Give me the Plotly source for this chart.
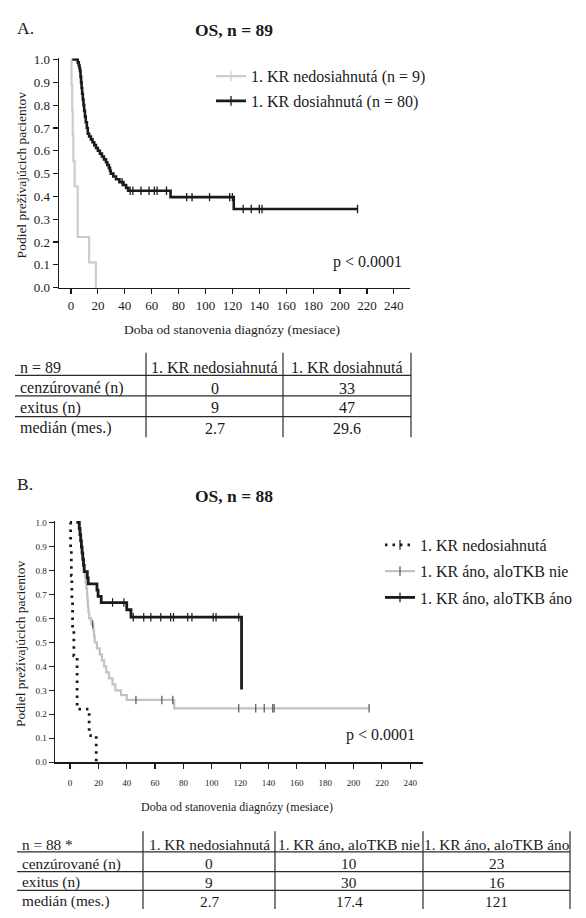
import numpy as np
import plotly.graph_objects as go

W, H = 586, 918
FONT = "Liberation Serif, Times New Roman, Times, serif"
INK = "#1a1a1a"
GRAY_A = "#cccccc"
GRAY_B = "#c2c2c2"

# ---------------- Panel A data ----------------
a_no_t = [0, 0.4, 0.9, 1.3, 1.8, 2.7, 5.0, 13.5, 18.5]
a_no_s = [1.0, 0.889, 0.778, 0.667, 0.556, 0.444, 0.222, 0.111, 0.0]
a_no_end = 18.5

a_yes_t = [1.0, 5.0, 5.8, 6.3, 6.7, 7.1, 7.5, 7.9, 8.3, 8.8, 9.3, 9.8, 10.4, 11.0,
           11.8, 12.5, 13.5, 14.8, 16.0, 17.3, 18.6, 20.0, 21.5, 23.0, 24.5, 26.0,
           27.0, 28.2, 29.0, 29.6, 31.5, 33.5, 36.0, 39.0, 41.0, 42.5, 74.0, 121.0]
a_yes_s = [1.0, 0.9875, 0.975, 0.9625, 0.95, 0.925, 0.90, 0.875, 0.85, 0.825, 0.80,
           0.775, 0.75, 0.725, 0.70, 0.675, 0.6625, 0.65, 0.6375, 0.625, 0.6125,
           0.60, 0.5875, 0.575, 0.5625, 0.55, 0.5375, 0.525, 0.5125, 0.50, 0.4875,
           0.475, 0.4625, 0.45, 0.4375, 0.425, 0.397, 0.345]
a_yes_end = 213
a_yes_cens = [38, 44, 46, 52, 58, 62, 64, 71, 86, 90, 103, 118, 120, 128, 134,
              140, 142, 213]

a_names = ["1. KR nedosiahnutá (n = 9)", "1. KR dosiahnutá (n = 80)"]

# ---------------- Panel B data ----------------
b_no_t = [0, 0.4, 0.9, 1.3, 1.8, 2.7, 5.0, 13.5, 18.5]
b_no_s = [1.0, 0.889, 0.778, 0.667, 0.556, 0.444, 0.222, 0.111, 0.0]
b_no_end = 18.5

b_nie_t = [4.5, 7.0, 7.4, 7.8, 8.2, 8.6, 9.0, 9.5, 10.0, 10.5, 11.0, 11.5, 12.0,
           12.3, 12.6, 13.0, 13.5, 15.0, 16.5, 17.0, 17.4, 19.0, 21.0, 22.5, 24.0,
           25.5, 27.5, 30.0, 32.0, 36.0, 40.0, 73.5]
b_nie_s = [1.0, 0.975, 0.95, 0.925, 0.90, 0.875, 0.85, 0.825, 0.80, 0.775, 0.75,
           0.725, 0.70, 0.675, 0.65, 0.625, 0.60, 0.575, 0.55, 0.525, 0.50, 0.475,
           0.45, 0.425, 0.40, 0.375, 0.35, 0.325, 0.30, 0.28, 0.26, 0.225]
b_nie_end = 211
b_nie_cens = [16.0, 46.5, 64.8, 72.5, 119, 131, 137, 143, 144, 211]

b_ano_t = [4.5, 6.5, 7.0, 7.5, 8.0, 8.5, 9.0, 9.5, 10.0, 12.2, 12.8, 19.0, 19.8,
           22.0, 40.0, 43.0, 121.0]
b_ano_s = [1.0, 0.974, 0.949, 0.923, 0.897, 0.872, 0.846, 0.821, 0.795, 0.769,
           0.744, 0.718, 0.692, 0.666, 0.636, 0.605, 0.303]
b_ano_end = 121
b_ano_cens = [30, 38, 44.6, 52, 57, 64, 71, 73, 83, 86, 101, 103, 119]

b_names = ["1. KR nedosiahnutá", "1. KR áno, aloTKB nie", "1. KR áno, aloTKB áno"]

x_ticks = list(range(0, 241, 20))
y_ticks = [round(0.1 * i, 1) for i in range(11)]

# ---------------- Tables ----------------
tabA_head = ["n = 89", "1. KR nedosiahnutá", "1. KR dosiahnutá"]
tabA_rows = ["cenzúrované (n)", "exitus (n)", "medián (mes.)"]
tabA_c1 = ["0", "9", "2.7"]
tabA_c2 = ["33", "47", "29.6"]

tabB_head = ["n = 88 *", "1. KR nedosiahnutá", "1. KR áno, aloTKB nie", "1. KR áno, aloTKB áno"]
tabB_rows = ["cenzúrované (n)", "exitus (n)", "medián (mes.)"]
tabB_c1 = ["0", "9", "2.7"]
tabB_c2 = ["10", "30", "17.4"]
tabB_c3 = ["23", "16", "121"]


def px(x):
    return x / W


def py(y):
    return 1 - y / H


def step_xy(t, s, end):
    return list(t) + [end], list(s) + [s[-1]]


def s_at(t, s, tc):
    idx = np.searchsorted(np.array(t), np.array(tc), side="right") - 1
    return list(np.array(s)[idx])


fig = go.Figure()

# ---- Panel A curves ----
x, y = step_xy(a_no_t, a_no_s, a_no_end)
fig.add_trace(go.Scatter(x=x, y=y, mode="lines", line=dict(color=GRAY_A, width=2.2, shape="hv"),
                         showlegend=False, xaxis="x", yaxis="y", hoverinfo="skip"))
x, y = step_xy(a_yes_t, a_yes_s, a_yes_end)
fig.add_trace(go.Scatter(x=x, y=y, mode="lines", line=dict(color=INK, width=2.6, shape="hv"),
                         showlegend=False, xaxis="x", yaxis="y", hoverinfo="skip"))
fig.add_trace(go.Scatter(x=a_yes_cens, y=s_at(a_yes_t, a_yes_s, a_yes_cens), mode="markers",
                         marker=dict(symbol="line-ns", size=6, line=dict(color=INK, width=1.3)),
                         showlegend=False, xaxis="x", yaxis="y", hoverinfo="skip"))

# legend entries A
for name, col, w in zip(a_names, [GRAY_A, INK], [2.2, 2.6]):
    fig.add_trace(go.Scatter(x=[None], y=[None], mode="lines+markers", name=name,
                             line=dict(color=col, width=w),
                             marker=dict(symbol="line-ns", size=7, line=dict(color=col, width=1.3)),
                             xaxis="x", yaxis="y", legend="legend", legendgroup=name))

# ---- Panel B curves ----
x, y = step_xy(b_no_t, b_no_s, b_no_end)
fig.add_trace(go.Scatter(x=x, y=y, mode="lines",
                         line=dict(color=INK, width=2.8, shape="hv", dash="2.5px,5px"),
                         showlegend=False, xaxis="x2", yaxis="y2", hoverinfo="skip"))
x, y = step_xy(b_nie_t, b_nie_s, b_nie_end)
fig.add_trace(go.Scatter(x=x, y=y, mode="lines", line=dict(color=GRAY_B, width=2.2, shape="hv"),
                         showlegend=False, xaxis="x2", yaxis="y2", hoverinfo="skip"))
fig.add_trace(go.Scatter(x=b_nie_cens, y=s_at(b_nie_t, b_nie_s, b_nie_cens), mode="markers",
                         marker=dict(symbol="line-ns", size=6, line=dict(color="#555555", width=1.2)),
                         showlegend=False, xaxis="x2", yaxis="y2", hoverinfo="skip"))
x, y = step_xy(b_ano_t, b_ano_s, b_ano_end)
fig.add_trace(go.Scatter(x=x, y=y, mode="lines", line=dict(color=INK, width=2.8, shape="hv"),
                         showlegend=False, xaxis="x2", yaxis="y2", hoverinfo="skip"))
fig.add_trace(go.Scatter(x=b_ano_cens, y=s_at(b_ano_t, b_ano_s, b_ano_cens), mode="markers",
                         marker=dict(symbol="line-ns", size=6, line=dict(color=INK, width=1.2)),
                         showlegend=False, xaxis="x2", yaxis="y2", hoverinfo="skip"))

# legend entries B
b_styles = [(INK, 2.8, "2.5px,5px"), (GRAY_B, 2.2, "solid"), (INK, 2.8, "solid")]
for name, (col, w, d) in zip(b_names, b_styles):
    fig.add_trace(go.Scatter(x=[None], y=[None], mode="lines+markers", name=name,
                             line=dict(color=col, width=w, dash=d),
                             marker=dict(symbol="line-ns", size=7,
                                         line=dict(color=col if col != GRAY_B else "#555555", width=1.2)),
                             xaxis="x2", yaxis="y2", legend="legend2", legendgroup=name))

axis_common = dict(showline=True, linecolor=INK, linewidth=1.5, ticks="outside", ticklen=5,
                   tickwidth=1.2, tickcolor=INK, showgrid=False, zeroline=False)

fig.update_layout(
    width=W, height=H, margin=dict(l=0, r=0, t=0, b=0),
    paper_bgcolor="white", plot_bgcolor="white",
    font=dict(family=FONT, color=INK),
    xaxis=dict(domain=[px(59), px(410)], range=[-8.9, 252], tickvals=x_ticks,
               tickfont=dict(size=13, family=FONT), anchor="y", **axis_common),
    yaxis=dict(domain=[py(286), py(53)], range=[0, 1.006], tickvals=y_ticks,
               tickformat=".1f", tickfont=dict(size=13, family=FONT), anchor="x", **axis_common),
    xaxis2=dict(domain=[px(55), px(423)], range=[-10.6, 249], tickvals=x_ticks,
                tickfont=dict(size=9, family=FONT), anchor="y2", ticklabelstandoff=6, **axis_common),
    yaxis2=dict(domain=[py(768), py(523)], range=[0, 1.006], tickvals=y_ticks,
                tickformat=".1f", tickfont=dict(size=9, family=FONT), anchor="x2", **axis_common),
    legend=dict(x=px(211), y=py(54), xanchor="left", yanchor="top", bgcolor="rgba(0,0,0,0)",
                font=dict(size=16, family=FONT, color=INK), traceorder="grouped",
                tracegroupgap=1),
    legend2=dict(x=px(380), y=py(530), xanchor="left", yanchor="top", bgcolor="rgba(0,0,0,0)",
                 font=dict(size=16, family=FONT, color=INK), traceorder="grouped",
                 tracegroupgap=2.5),
    showlegend=True,
)

ann = []
shapes = []


def text(x, y, s, size, anchor="center", angle=0):
    ann.append(dict(x=px(x), y=py(y), xref="paper", yref="paper", text=s, showarrow=False,
                    xanchor=anchor, yanchor="middle", textangle=angle,
                    font=dict(size=size, family=FONT, color=INK)))


# Panel labels and titles
text(15, 22, "A.", 17.5, "left")
text(234, 24, "<b>OS, n = 89</b>", 17.5)
text(15, 485, "B.", 17.5, "left")
text(234, 498, "<b>OS, n = 88</b>", 17.5)

# axis titles
text(21, 172, "Podiel prežívajúcich pacientov", 13.5, angle=-90)
text(232, 329, "Doba od stanovenia diagnózy (mesiace)", 13.5)
text(20, 648, "Podiel prežívajúcich pacientov", 13.5, angle=-90)
text(237, 813, "Doba od stanovenia diagnózy (mesiace)", 12)

# p-values
text(367, 260, "p &lt; 0.0001", 16)
text(380, 740, "p &lt; 0.0001", 16)


def draw_table(head, rows, cols, left, vx, hy, ry, top, bottom, size):
    for yy in hy:
        shapes.append(dict(type="line", xref="paper", yref="paper", x0=px(left), x1=px(vx[-1]),
                           y0=py(yy), y1=py(yy), line=dict(color="#2a2a2a", width=1.2)))
    for xx in vx:
        shapes.append(dict(type="line", xref="paper", yref="paper", x0=px(xx), x1=px(xx),
                           y0=py(top), y1=py(bottom), line=dict(color="#2a2a2a", width=1.2)))
    bounds = [left] + list(vx)
    text(left + 3, ry[0], head[0], size, "left")
    for r, lab in enumerate(rows):
        text(left + 3, ry[r + 1], lab, size, "left")
    for c in range(1, len(head)):
        cx = (bounds[c] + bounds[c + 1]) / 2
        text(cx, ry[0], head[c], size)
        for r in range(len(rows)):
            text(cx, ry[r + 1], cols[c - 1][r], size)


draw_table(tabA_head, tabA_rows, [tabA_c1, tabA_c2], 15, [146, 283, 411],
           [375, 396, 417], [367, 388, 408, 429], 352, 438, 16)
draw_table(tabB_head, tabB_rows, [tabB_c1, tabB_c2, tabB_c3], 17, [143, 275, 423, 570],
           [859, 879, 898], [851, 871, 890, 909], 838, 917, 15.3)

fig.update_layout(annotations=ann, shapes=shapes)
fig.write_html("out.html",
               config={"displayModeBar": False, "staticPlot": True},
               post_script="document.body.style.margin='0';document.body.style.overflow='hidden';")
